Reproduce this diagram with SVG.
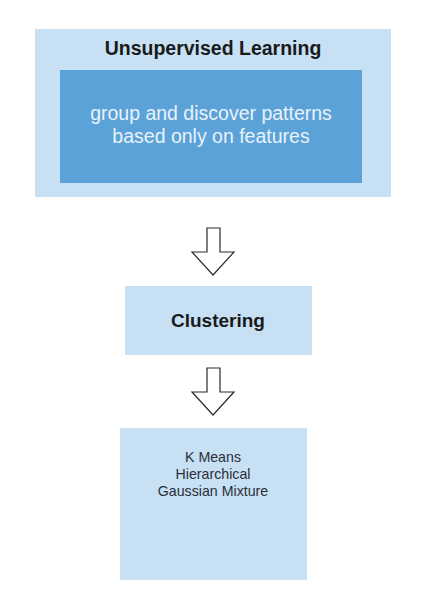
<svg xmlns="http://www.w3.org/2000/svg" width="430" height="616" viewBox="0 0 430 616">
<style>
.light{fill:#c7e0f4}
.dark{fill:#5ba2d8}
.t{font-family:"Liberation Sans",Arial,sans-serif;text-anchor:middle}
.b{font-weight:bold;fill:#1a1a1a}
.h{font-size:19.5px}
.c{font-size:19px}
.w{font-size:19.5px;fill:#e9f2fa}
.s{font-size:14.2px;fill:#2a2f38}
.arrow{fill:#ffffff;stroke:#2a2a2a;stroke-width:1.2;stroke-linejoin:miter}
</style>
<rect width="430" height="616" fill="#ffffff"/>
<g id="unsupervised">
<rect class="light" x="35" y="29" width="356" height="168"/>
<text class="t b h" x="213" y="55">Unsupervised Learning</text>
<rect class="dark" x="60" y="70" width="302" height="113"/>
<text class="t w" x="211" y="120">group and discover patterns</text>
<text class="t w" x="211" y="143">based only on features</text>
</g>
<g id="clustering">
<rect class="light" x="125" y="286" width="187" height="69"/>
<text class="t b c" x="218" y="327">Clustering</text>
</g>
<g id="algorithms">
<rect class="light" x="120" y="428" width="187" height="152"/>
<text class="t s" x="213" y="462">K Means</text>
<text class="t s" x="213" y="479">Hierarchical</text>
<text class="t s" x="213" y="496">Gaussian Mixture</text>
</g>
<g id="connectors">
<path class="arrow" d="M207,228 H220 V252 H234 L213,275 L192,252 H207 Z"/>
<path class="arrow" d="M207,368 H220 V392 H234 L213,415 L192,392 H207 Z"/>
</g>
</svg>
